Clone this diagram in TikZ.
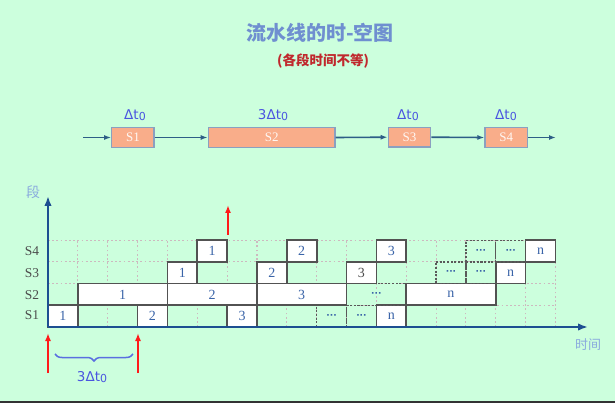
\documentclass[tikz,border=0pt]{standalone}
\usepackage{fontspec}
\setmainfont{Liberation Serif}
\newfontfamily\cjk{Noto Sans CJK SC}
\newfontfamily\dvs{DejaVu Sans}
\usetikzlibrary{arrows.meta,decorations.pathreplacing}
\definecolor{bg}{HTML}{CCFFDD}
\definecolor{titleblue}{HTML}{6F8FD0}
\definecolor{subred}{HTML}{C0282D}
\definecolor{labblue}{HTML}{4A55E0}
\definecolor{pipeline}{HTML}{2D5E86}
\definecolor{salmon}{HTML}{F9AD8A}
\definecolor{salmonedge}{HTML}{8AA0C0}
\definecolor{numblue}{HTML}{3A64A8}
\definecolor{axisblue}{HTML}{1D4F91}
\definecolor{gridc}{HTML}{CDB9BF}
\definecolor{axlab}{HTML}{8AAADD}
\definecolor{redar}{HTML}{FF1A1A}
\definecolor{bracec}{HTML}{5A6FE0}
\newcommand\mydots{{\dvs\bfseries\fontsize{9}{9}\selectfont ···}}
\tikzset{
  stage/.style={draw=salmonedge, line width=1.3pt, fill=salmon, minimum height=19.5pt, inner sep=0pt, text=white!90!salmon, font=\fontsize{13}{13}\selectfont},
  pipe/.style={draw=pipeline, line width=1.6pt, -{Latex[length=7pt,width=5pt]}},
  dtlab/.style={text=labblue, font=\dvs\fontsize{13.5}{13.5}\selectfont},
  task/.style={draw=black!68, line width=1.7pt, fill=white, minimum height=21.7pt, inner sep=0pt, text=numblue, font=\fontsize{14}{14}\selectfont},
  dotcell/.style={draw=black!65, line width=1.4pt, dash pattern=on 2pt off 1.6pt, minimum height=21.7pt, inner sep=0pt, text=numblue},
  rowlab/.style={text=black!70, font=\fontsize{13.5}{13.5}\selectfont},
  gridline/.style={draw=gridc, line width=1.1pt, dash pattern=on 1.8pt off 2.4pt},
  axis/.style={draw=axisblue, line width=2.4pt, -{Latex[length=10pt,width=7.5pt]}},
  redarrow/.style={draw=redar, line width=2.4pt, -{Latex[length=8pt,width=6pt]}}
}
\begin{document}
\begin{tikzpicture}[x=1pt,y=-1pt]
\fill[bg] (0,0) rectangle (615,403);
\useasboundingbox (0,0) rectangle (615,403);
\fill[black!80] (0,400.5) rectangle (615,403);

% title
\node[text=titleblue, font=\cjk\bfseries\fontsize{20}{20}\selectfont] (title) at (320,33) {流水线的时-空图};
\node[text=subred, font=\cjk\bfseries\fontsize{13.5}{14}\selectfont] (subtitle) at (323,61) {(各段时间不等)};

% pipeline
\coordinate (pin) at (83,137.5);
\coordinate (pout) at (556,137.5);
\node[stage, minimum width=42.3pt] (p1) at (132.9,137.5) {S1};
\node[stage, minimum width=126.7pt] (p2) at (271.7,137.5) {S2};
\node[stage, minimum width=42.4pt] (p3) at (409.5,137.2) {S3};
\node[stage, minimum width=42.3pt] (p4) at (506.2,137.5) {S4};
\draw[pipe] (pin) -- (p1.west);
\draw[pipe] (p1.east) -- (p2.west);
\draw[pipe] (p2.east) -- (p3.west);
\draw[pipe] (p3.east) -- (p4.west);
\draw[pipe] (p4.east) -- (pout);
\node[dtlab] (d1) at (135,115) {Δt\raisebox{-0.5pt}{\fontsize{11}{11}\selectfont 0}};
\node[dtlab] (d2) at (273,115) {3Δt\raisebox{-0.5pt}{\fontsize{11}{11}\selectfont 0}};
\node[dtlab] (d3) at (408,115) {Δt\raisebox{-0.5pt}{\fontsize{11}{11}\selectfont 0}};
\node[dtlab] (d4) at (506,115) {Δt\raisebox{-0.5pt}{\fontsize{11}{11}\selectfont 0}};

% space-time grid
\begin{scope}[shift={(48,327)}, x=29.85pt, y=21.7pt]
  \foreach \r in {1,2,3,4} \draw[gridline] (0,\r) -- (17,\r);
  \foreach \c in {1,...,17} \draw[gridline] (\c,0) -- (\c,4);
  % S1
  \node[task, minimum width=29.85pt] (a1) at (0.5,0.5) {1};
  \node[task, minimum width=29.85pt] (a2) at (3.5,0.5) {2};
  \node[task, minimum width=29.85pt] (a3) at (6.5,0.5) {3};
  \node[dotcell, minimum width=29.85pt] (a4) at (9.5,0.5) {\mydots};
  \node[dotcell, minimum width=29.85pt] (a5) at (10.5,0.5) {\mydots};
  \node[task, minimum width=29.85pt] (an) at (11.5,0.5) {n};
  % S2
  \node[dotcell, minimum width=59.7pt] (b4) at (11,1.5) {\mydots};
  \node[task, minimum width=89.55pt] (b1) at (2.5,1.5) {1};
  \node[task, minimum width=89.55pt] (b2) at (5.5,1.5) {2};
  \node[task, minimum width=89.55pt] (b3) at (8.5,1.5) {3};
  \node[task, minimum width=89.55pt] (bn) at (13.5,1.5) {n};
  % S3
  \node[dotcell, minimum width=29.85pt] (c4) at (13.5,2.5) {\mydots};
  \node[dotcell, minimum width=29.85pt] (c5) at (14.5,2.5) {\mydots};
  \node[task, minimum width=29.85pt] (c1) at (4.5,2.5) {1};
  \node[task, minimum width=29.85pt] (c2) at (7.5,2.5) {2};
  \node[task, minimum width=29.85pt, text=black!70] (c3) at (10.5,2.5) {3};
  \node[task, minimum width=29.85pt] (cn) at (15.5,2.5) {n};
  % S4
  \node[dotcell, minimum width=29.85pt] (e4) at (14.5,3.5) {\mydots};
  \node[dotcell, minimum width=29.85pt] (e5) at (15.5,3.5) {\mydots};
  \node[task, minimum width=29.85pt] (e1) at (5.5,3.5) {1};
  \node[task, minimum width=29.85pt] (e2) at (8.5,3.5) {2};
  \node[task, minimum width=29.85pt] (e3) at (11.5,3.5) {3};
  \node[task, minimum width=29.85pt] (en) at (16.5,3.5) {n};
\end{scope}

% row labels
\node[rowlab] (r4) at (32,251.5) {S4};
\node[rowlab] (r3) at (32,273) {S3};
\node[rowlab] (r2) at (32,295) {S2};
\node[rowlab] (r1) at (32,315.5) {S1};

% axes
\coordinate (O) at (48,327);
\coordinate (ytop) at (48,196);
\coordinate (xend) at (588,327);
\draw[axis] (O) -- (ytop);
\draw[axis] (O) -- (xend);
\node[text=axlab, font=\cjk\fontsize{14}{14}\selectfont] (ylab) at (33,192) {段};
\node[text=axlab, font=\cjk\fontsize{13}{13}\selectfont] (xlab) at (588,345) {时间};

% red arrows
\coordinate (ra1) at (48,373);
\coordinate (ra1t) at (48,333);
\coordinate (ra2) at (138,373);
\coordinate (ra2t) at (138,333);
\coordinate (ra3) at (228,235);
\coordinate (ra3t) at (228,205);
\draw[redarrow] (ra1) -- (ra1t);
\draw[redarrow] (ra2) -- (ra2t);
\draw[redarrow] (ra3) -- (ra3t);

% brace
\coordinate (bl) at (55,354);
\coordinate (br) at (133,354);
\draw[bracec, line width=1.5pt, decorate, decoration={brace, mirror, amplitude=7pt}] (bl) -- (br);
\node[dtlab] (blab) at (92,377) {3Δt\raisebox{-0.5pt}{\fontsize{11}{11}\selectfont 0}};
\end{tikzpicture}
\end{document}
